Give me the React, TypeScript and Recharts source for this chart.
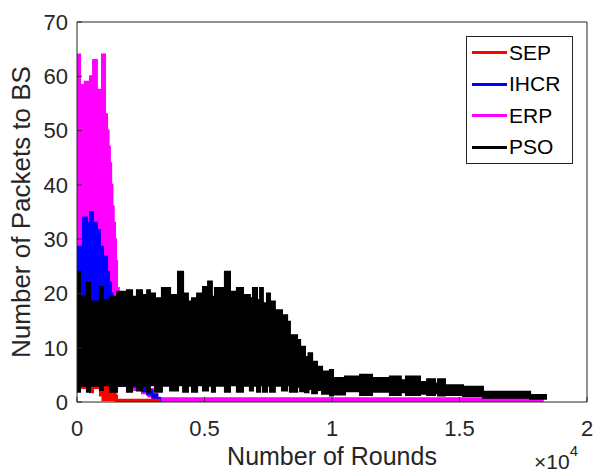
import React from "react";
import { ComposedChart, Area, XAxis, YAxis } from "recharts";

const FONT = "'Liberation Sans', Arial, Helvetica, sans-serif";
const INK = "#262626";

const xTicks = [0, 5000, 10000, 15000, 20000];
const yTicks = [0, 10, 20, 30, 40, 50, 60, 70];

// SEP (red) - breakpoints in rounds, lower / upper envelope of the noisy trace
const sepRounds = [0, 510, 630, 900, 1000, 1250, 1450, 1520, 1570, 3260];
const sepHigh = [3.5, 3.8, 3.5, 4.5, 5.3, 4.2, 2.5, 1.2, 0.4, 0.4];
const sepLow = [2.6, 1.8, 2.6, 1.2, 0.3, 0.3, 0.3, 0.2, 0, 0];

// IHCR (blue)
const ihcrRounds = [0, 235, 390, 510, 630, 780, 900, 1020, 1180, 1255, 1330, 1400, 1600, 1900, 2200, 2550, 2750, 2950, 3150, 3260];
const ihcrHigh = [28.6, 34, 33, 35, 33, 31.7, 28.6, 26.8, 24, 22, 20, 16, 10, 6, 4, 2.8, 2.1, 1.4, 0.7, 0];
const ihcrLow = [3, 3, 3, 3, 3, 3, 3, 3, 3, 3, 3, 3, 3, 3, 2.8, 2.0, 1.4, 0.8, 0.3, 0];

// ERP (magenta)
const erpRounds = [0, 10, 120, 200, 310, 510, 630, 780, 980, 1100, 1180, 1240, 1290, 1340, 1390, 1440, 1490, 1530, 1570, 1640, 1720, 1800, 1900, 2200, 2550, 2800, 3000, 3150, 3260, 18300];
const erpHigh = [57.5, 64, 57.5, 58.4, 59, 60, 63, 57.5, 64, 53, 50, 47, 44, 40, 36, 33, 30, 26, 21, 15, 10, 7, 5, 4, 3.2, 2.4, 1.5, 0.8, 0.7, 0.7];
const erpLow = [4, 4, 4, 4, 4, 4, 4, 4, 4, 4, 4, 4, 4, 4, 4, 4, 4, 4, 4, 4, 3.5, 3.2, 3, 2.2, 1.6, 1.0, 0.6, 0.2, 0, 0];

// PSO (black)
const psoRounds = [
  0, 120, 390, 510, 900, 1020, 1290, 1570, 1960, 2160, 2350, 2550, 2750, 2860, 3060, 3330, 3650, 3960, 4160, 4350,
  4510, 4710, 4940, 5140, 5290, 5410, 5800, 6000, 6270, 6510, 6780, 6900, 7060, 7180, 7290, 7450, 7570, 7760, 8040, 8240,
  8350, 8630, 8750, 8940, 9080, 9220, 9410, 9610, 9920, 10040, 10510, 11100, 11570, 12270, 12700, 12900, 13450, 13730, 14040, 14160,
  14430, 15140, 15920, 17770, 18430,
];
const psoHigh = [
  24, 19.4, 21.9, 18.5, 21.2, 18.8, 19.4, 20.3, 20.6, 19.4, 20.6, 19.7, 20.6, 20.0, 19.1, 21.0, 19.7, 24, 20, 18.5,
  19.1, 20, 21.2, 22.2, 19.4, 21, 24, 20.3, 21, 19.7, 19.1, 21, 18.8, 21, 18.2, 20, 18.5, 16.9, 16, 14.8,
  12.3, 11.4, 10.2, 8.3, 9.0, 7.4, 6.5, 5.6, 5.9, 4.4, 4.7, 5.0, 4.4, 4.7, 4.0, 4.7, 3.7, 4.2, 3.4, 4.2,
  3.1, 2.8, 1.9, 1.3, 1.3,
];
const psoLow = [
  1.9, 3.0, 1.9, 3.0, 2.2, 3.1, 1.9, 3.0, 1.9, 3.1, 2.1, 3.0, 1.9, 3.1, 1.9, 3.0, 2.1, 3.1, 1.9, 3.0,
  1.9, 3.1, 2.1, 3.0, 1.9, 3.0, 1.9, 3.1, 1.9, 3.0, 2.1, 3.0, 1.9, 3.1, 1.9, 3.0, 1.9, 3.0, 2.1, 3.1,
  1.9, 2.8, 2.0, 1.8, 2.4, 1.6, 2.2, 1.5, 1.2, 1.4, 2.0, 1.3, 1.9, 1.3, 1.8, 1.3, 1.5, 1.3, 1.6, 1.2,
  1.3, 1.1, 0.8, 0.6, 0.6,
];

const toRows = (rounds: number[], low: number[], high: number[]) =>
  rounds.map((round, i) => ({ round, range: [low[i], high[i]] }));

const series = [
  { name: "SEP", color: "#ff0000" },
  { name: "IHCR", color: "#0000ff" },
  { name: "ERP", color: "#ff00ff" },
  { name: "PSO", color: "#000000" },
];

const XLabel = () => (
  <g fontFamily={FONT} fill={INK}>
    <text x={332} y={465} fontSize={25} textAnchor="middle">
      Number of Rounds
    </text>
    <text x={534} y={469} fontSize={21}>
      ×10
      <tspan dy={-13} fontSize={15}>
        4
      </tspan>
    </text>
  </g>
);

const YLabel = () => (
  <text
    x={30}
    y={212}
    fontSize={26}
    fontFamily={FONT}
    fill={INK}
    textAnchor="middle"
    transform="rotate(-90, 30, 212)"
  >
    Number of Packets to BS
  </text>
);

export default function App() {
  const tickStyle = { fill: INK, fontSize: 22, fontFamily: FONT };
  return (
    <div style={{ position: "absolute", left: 0, top: 0, width: 595, height: 474, background: "#fff" }}>
      <ComposedChart width={595} height={474} margin={{ top: 21, right: 7, bottom: 22, left: 0 }}>
        <XAxis
          xAxisId="bottom"
          dataKey="round"
          type="number"
          domain={[0, 20000]}
          ticks={xTicks}
          interval={0}
          allowDataOverflow
          tickFormatter={(v) => String(v / 10000)}
          height={50}
          tickSize={-5}
          tickMargin={23}
          stroke={INK}
          tick={tickStyle}
          label={XLabel}
        />
        <XAxis
          xAxisId="top"
          orientation="top"
          dataKey="round"
          type="number"
          domain={[0, 20000]}
          ticks={xTicks}
          interval={0}
          height={1}
          tickSize={-5}
          tick={false}
          stroke={INK}
        />
        <YAxis
          yAxisId="left"
          type="number"
          domain={[0, 70]}
          ticks={yTicks}
          interval={0}
          allowDataOverflow
          width={77}
          tickSize={-5}
          tickMargin={14}
          stroke={INK}
          tick={tickStyle}
          label={YLabel}
        />
        <YAxis
          yAxisId="right"
          orientation="right"
          type="number"
          domain={[0, 70]}
          ticks={yTicks}
          interval={0}
          width={1}
          tickSize={-5}
          tick={false}
          stroke={INK}
        />
        <Area
          xAxisId="bottom"
          yAxisId="left"
          data={toRows(erpRounds, erpLow, erpHigh)}
          dataKey="range"
          type="stepAfter"
          name="ERP"
          stroke="#ff00ff"
          strokeWidth={2}
          fill="#ff00ff"
          fillOpacity={1}
          isAnimationActive={false}
        />
        <Area
          xAxisId="bottom"
          yAxisId="left"
          data={toRows(ihcrRounds, ihcrLow, ihcrHigh)}
          dataKey="range"
          type="stepAfter"
          name="IHCR"
          stroke="#0000ff"
          strokeWidth={2}
          fill="#0000ff"
          fillOpacity={1}
          isAnimationActive={false}
        />
        <Area
          xAxisId="bottom"
          yAxisId="left"
          data={toRows(sepRounds, sepLow, sepHigh)}
          dataKey="range"
          type="stepAfter"
          name="SEP"
          stroke="#ff0000"
          strokeWidth={2}
          fill="#ff0000"
          fillOpacity={1}
          isAnimationActive={false}
        />
        <Area
          xAxisId="bottom"
          yAxisId="left"
          data={toRows(psoRounds, psoLow, psoHigh)}
          dataKey="range"
          type="stepAfter"
          name="PSO"
          stroke="#000000"
          strokeWidth={2}
          fill="#000000"
          fillOpacity={1}
          isAnimationActive={false}
        />
      </ComposedChart>

      {/* legend box, top right inside the axes */}
      <div
        style={{
          position: "absolute",
          left: 466,
          top: 36,
          width: 107,
          height: 128,
          border: `1px solid ${INK}`,
          background: "#fff",
          boxSizing: "border-box",
          fontFamily: FONT,
        }}
      >
        {series.map((s) => (
          <div key={s.name} style={{ display: "flex", alignItems: "center", height: 31.5 }}>
            <div style={{ width: 35, height: 3, background: s.color, marginLeft: 5 }} />
            <span style={{ fontSize: 21, marginLeft: 2, color: "#000" }}>{s.name}</span>
          </div>
        ))}
      </div>
    </div>
  );
}
